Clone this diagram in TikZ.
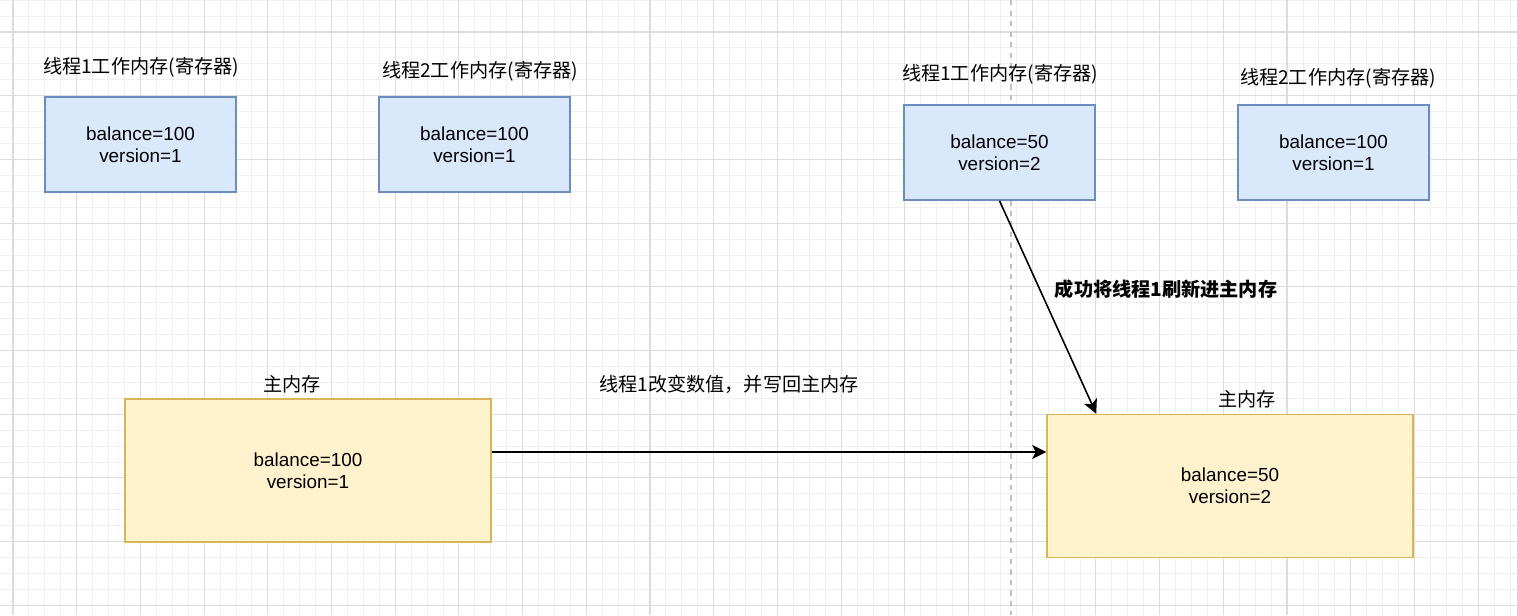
\documentclass[tikz,border=0pt]{standalone}
\usepackage{fontspec}
\setmainfont{Liberation Sans}
\newfontfamily\cjk{Noto Sans CJK SC}
\usetikzlibrary{arrows.meta,positioning}
\definecolor{wmfill}{HTML}{DAE8FC}
\definecolor{wmdraw}{HTML}{6C8EBF}
\definecolor{mmfill}{HTML}{FFF2CC}
\definecolor{mmdraw}{HTML}{D6B656}
\definecolor{gridmajor}{HTML}{DCDCDC}
\definecolor{gridminor}{HTML}{F0F0F0}
\definecolor{sepgray}{HTML}{C0C0C0}
\tikzset{
  box/.style={draw,line width=0.9pt,align=center,inner sep=0pt,font=\fontsize{10.75}{12.5}\selectfont},
  wm/.style={box,draw=wmdraw,fill=wmfill,minimum width=3.82cm,minimum height=1.9cm},
  mm/.style={box,draw=mmdraw,fill=mmfill,minimum width=7.32cm,minimum height=2.86cm},
  lbl/.style={inner sep=0pt,font=\cjk\fontsize{10.9}{13}\selectfont},
  ar/.style={-{Stealth[length=8pt,width=8pt,inset=2pt]},draw=black,line width=0.9pt},
}
\begin{document}
\begin{tikzpicture}[x=0.02cm,y=-0.02cm]
  \useasboundingbox (0,0) rectangle (1517,615);
  \fill[white] (0,0) rectangle (1517,615);
  % background grid
  \foreach \j in {0,...,95} \draw[gridminor,line width=0.5pt] (13+15.925*\j,0) -- (13+15.925*\j,615);
  \foreach \j in {-2,...,37} \draw[gridminor,line width=0.5pt] (0,32+15.925*\j) -- (1517,32+15.925*\j);
  \foreach \j in {0,4,...,92} \draw[gridmajor,line width=0.6pt] (13+15.925*\j,0) -- (13+15.925*\j,615);
  \foreach \j in {0,4,...,36} \draw[gridmajor,line width=0.6pt] (0,32+15.925*\j) -- (1517,32+15.925*\j);
  \draw[sepgray,dashed,line width=0.6pt] (1011,0) -- (1011,615);

  % working memory, before
  \node[wm] (wm1a) at (140.5,144.5) {balance=100\\version=1};
  \node[wm] (wm2a) at (474.5,144.5) {balance=100\\version=1};
  \node[lbl] (wm1aLbl) at (141,67) {线程1工作内存(寄存器)};
  \node[lbl] (wm2aLbl) at (480,71) {线程2工作内存(寄存器)};

  % working memory, after
  \node[wm] (wm1b) at (999.5,152.5) {balance=50\\version=2};
  \node[wm] (wm2b) at (1333.5,152.5) {balance=100\\version=1};
  \node[lbl] (wm1bLbl) at (1000,74) {线程1工作内存(寄存器)};
  \node[lbl] (wm2bLbl) at (1338,78) {线程2工作内存(寄存器)};

  % main memory
  \node[mm] (mmA) at (308,470.5) {balance=100\\version=1};
  \node[mm] (mmB) at (1230,486) {balance=50\\version=2};
  \node[lbl] (mmALbl) at (292,384) {主内存};
  \node[lbl] (mmBLbl) at (1247,399) {主内存};

  \draw[ar] ([yshift=0.37cm]mmA.east) -- ([yshift=0.37cm]mmA.east -| mmB.west);
  \node[lbl] (writeLbl) at (729,384) {线程1改变数值，并写回主内存};
  \draw[ar] (wm1b.south) -- ([xshift=1cm]mmB.north west);
  \node[lbl,font=\cjk\bfseries\fontsize{10.9}{13}\selectfont] (flushLbl) at (1166,289) {成功将线程1刷新进主内存};
\end{tikzpicture}
\end{document}
